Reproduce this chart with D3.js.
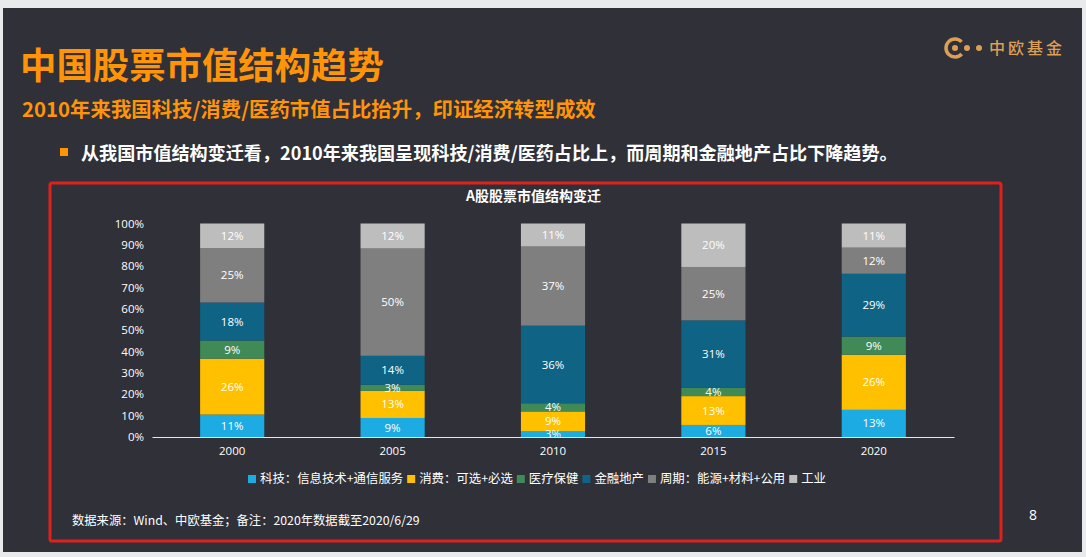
<!DOCTYPE html>
<html lang="zh">
<head>
<meta charset="UTF-8">
<title>中国股票市值结构趋势</title>
<script src="https://cdn.jsdelivr.net/npm/d3@7"></script>
<style>
    html, body { margin: 0; padding: 0; background: #e9eaec; overflow: hidden; }
    svg { display: block; }
    text { font-family: "Open Sans", "Noto Sans CJK SC", sans-serif; }
    .cjk { font-family: "Noto Sans CJK SC", sans-serif; }
    .axis text { fill: #fff; font-size: 11.5px; }
    .barLabel { fill: #fff; font-size: 11.5px; text-anchor: middle; }
</style>
</head>
<body>
<div id="chart"></div>
<script>
    // shares, labels on the bars are these rounded
    const years = ["2000", "2005", "2010", "2015", "2020"];
    const seriesNames = ["科技：信息技术+通信服务", "消费：可选+必选", "医疗保健", "金融地产", "周期：能源+材料+公用", "工业"];
    const seriesColors = ["#1cabe2", "#ffc000", "#3f8a57", "#0f6385", "#7f7f7f", "#bdbdbd"];
    const tech = [10.5, 8.9, 2.6, 5.6, 12.7];
    const consumer = [26.2, 12.7, 9.4, 13.4, 25.8];
    const health = [8.5, 2.8, 3.8, 3.8, 8.5];
    const finance = [17.8, 13.6, 36.4, 31.4, 29.4];
    const cyclical = [25.4, 50.2, 37.1, 24.8, 12.2];
    const industry = [11.6, 11.7, 10.8, 20.2, 11.3];
    const yTicks = [0, .1, .2, .3, .4, .5, .6, .7, .8, .9, 1];

    const allSeries = [tech, consumer, health, finance, cyclical, industry];
    const rows = years.map((year, i) => {
        const row = { year };
        seriesNames.forEach((name, s) => { row[name] = allSeries[s][i]; });
        return row;
    });

    const W = 1086, H = 557;
    const svg = d3.select("#chart").append("svg").attr("width", W).attr("height", H);

    // slide background
    svg.append("rect").attr("x", 3).attr("y", 8).attr("width", 1079).attr("height", 544).attr("fill", "#2f3038");

    // headings
    svg.append("text").attr("class", "cjk").attr("x", 20).attr("y", 79)
        .attr("font-size", 36.4).attr("font-weight", 700).attr("fill", "#ff9408").text("中国股票市值结构趋势");
    svg.append("text").attr("class", "cjk").attr("x", 22).attr("y", 117)
        .attr("font-size", 20.4).attr("font-weight", 700).attr("fill", "#ff9408").text("2010年来我国科技/消费/医药市值占比抬升，印证经济转型成效");
    svg.append("rect").attr("x", 60).attr("y", 148).attr("width", 8).attr("height", 8).attr("fill", "#ff9408");
    svg.append("text").attr("class", "cjk").attr("x", 81).attr("y", 160)
        .attr("font-size", 18.1).attr("font-weight", 700).attr("fill", "#fff").text("从我国市值结构变迁看，2010年来我国呈现科技/消费/医药占比上，而周期和金融地产占比下降趋势。");

    // logo
    const logo = svg.append("g").attr("fill", "#dc9f55");
    logo.append("path").attr("fill", "none").attr("stroke", "#dc9f55").attr("stroke-width", 3.5)
        .attr("d", d3.arc()({ innerRadius: 9, outerRadius: 9, startAngle: 2.3, endAngle: 7.1 }))
        .attr("transform", "translate(955,48)");
    logo.append("circle").attr("cx", 955).attr("cy", 48).attr("r", 3);
    logo.append("circle").attr("cx", 967).attr("cy", 48).attr("r", 3);
    logo.append("circle").attr("cx", 979).attr("cy", 48).attr("r", 3);
    logo.append("text").attr("class", "cjk").attr("x", 989).attr("y", 54)
        .attr("font-size", 16).attr("font-weight", 500).attr("letter-spacing", 3).text("中欧基金");

    // red frame
    svg.append("rect").attr("x", 50).attr("y", 183).attr("width", 951).attr("height", 358)
        .attr("rx", 2).attr("fill", "none").attr("stroke", "#e0201c").attr("stroke-width", 3);

    svg.append("text").attr("class", "cjk").attr("x", 533.5).attr("y", 201).attr("text-anchor", "middle")
        .attr("font-size", 14).attr("font-weight", 700).attr("fill", "#fff").text("A股股票市值结构变迁");

    // chart
    const x = d3.scaleBand().domain(years).range([152, 954]).paddingInner(0.6).paddingOuter(0.3);
    const y = d3.scaleLinear().domain([0, 1]).range([437, 223.5]);

    const stack = d3.stack().keys(seriesNames).offset(d3.stackOffsetExpand);
    const layers = stack(rows);

    const groups = svg.selectAll(".layer").data(layers).join("g")
        .attr("class", "layer")
        .attr("fill", (d, i) => seriesColors[i]);

    groups.selectAll("rect").data(d => d).join("rect")
        .attr("x", d => x(d.data.year))
        .attr("y", d => y(d[1]))
        .attr("width", x.bandwidth())
        .attr("height", d => y(d[0]) - y(d[1]));

    const labelGroups = svg.selectAll(".layerLabels").data(layers).join("g").attr("class", "layerLabels");
    labelGroups.selectAll("text").data(d => d.map(p => ({ p, key: d.key }))).join("text")
        .attr("class", "barLabel")
        .attr("x", d => x(d.p.data.year) + x.bandwidth() / 2)
        .attr("y", d => y((d.p[0] + d.p[1]) / 2))
        .attr("dy", ".35em")
        .text(d => Math.round(d.p.data[d.key]) + "%");

    svg.append("g").attr("class", "axis")
        .attr("transform", "translate(152,0)")
        .call(d3.axisLeft(y).tickValues(yTicks).tickSize(0).tickPadding(8).tickFormat(d3.format(".0%")))
        .call(g => g.select(".domain").remove());

    svg.append("g").attr("class", "axis")
        .attr("transform", "translate(0,437)")
        .call(d3.axisBottom(x).tickSize(0).tickPadding(10))
        .call(g => g.select(".domain").attr("stroke", "#e6e6e6").attr("stroke-width", 1.2));

    // legend, entries are measured so they sit one after another
    const legend = svg.append("g").attr("transform", "translate(248,479)");
    let legendX = 0;
    seriesNames.forEach((name, i) => {
        legend.append("rect").attr("x", legendX).attr("y", -4).attr("width", 8).attr("height", 8).attr("fill", seriesColors[i]);
        const label = legend.append("text").attr("class", "cjk").attr("x", legendX + 12).attr("dy", ".35em")
            .attr("font-size", 12.4).attr("fill", "#fff").text(name);
        legendX += 12 + label.node().getComputedTextLength() + 4;
    });

    // footer
    svg.append("text").attr("class", "cjk").attr("x", 72).attr("y", 525)
        .attr("font-size", 12.3).attr("fill", "#fff").text("数据来源：Wind、中欧基金；备注：2020年数据截至2020/6/29");
    svg.append("text").attr("x", 1033).attr("y", 520).attr("text-anchor", "middle")
        .attr("font-size", 14).attr("fill", "#fff").text("8");
</script>
</body>
</html>
